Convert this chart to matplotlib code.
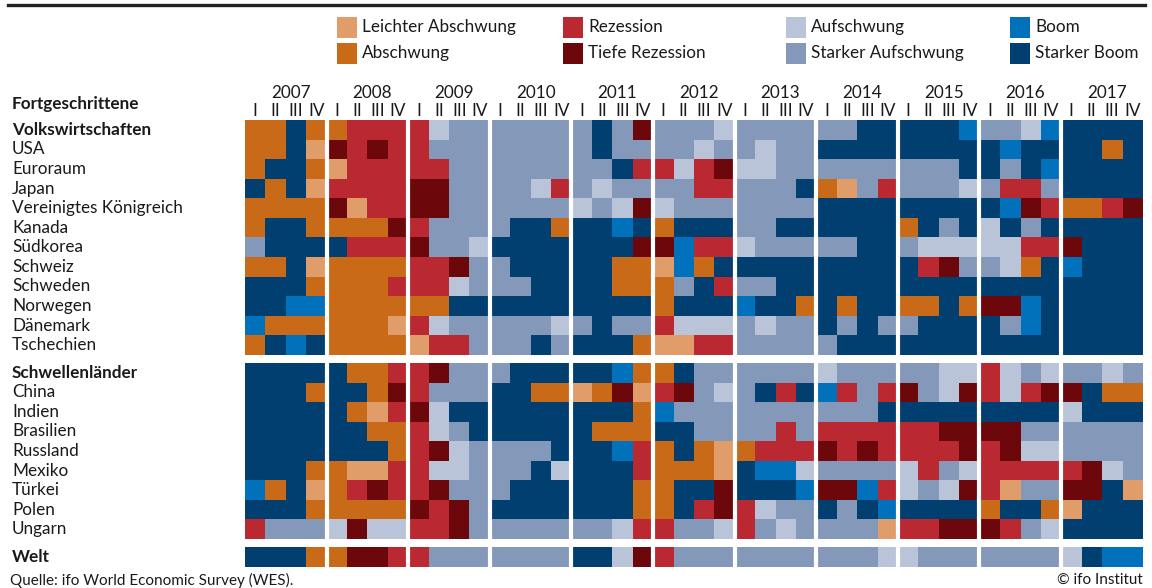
import matplotlib
matplotlib.use("Agg")
import matplotlib.pyplot as plt
from matplotlib.colors import ListedColormap, BoundaryNorm
from matplotlib.patches import Rectangle
from matplotlib.lines import Line2D
from matplotlib.transforms import blended_transform_factory
import numpy as np

# ---------------- data ----------------
categories = ["Leichter Abschwung", "Abschwung", "Rezession", "Tiefe Rezession",
              "Aufschwung", "Starker Aufschwung", "Boom", "Starker Boom"]
cat_codes = ["L", "A", "R", "T", "U", "S", "B", "X"]
cat_colors = ["#E09D69", "#C86A17", "#BA2832", "#6C070B",
              "#B9C4D9", "#8498B9", "#0071BA", "#003F6F"]

years = [str(y) for y in range(2007, 2018)]
quarters = ["I", "II", "III", "IV"]

adv_header = "Fortgeschrittene"
adv_labels = ["Volkswirtschaften", "USA", "Euroraum", "Japan", "Vereinigtes Königreich",
              "Kanada", "Südkorea", "Schweiz", "Schweden", "Norwegen", "Dänemark", "Tschechien"]
adv_rows = [
    "AAXA ARRR RUSS SSSS SXST SSSU SSSS SSXX XXXB SSUB XXXX",
    "AAXL TRTR RSSS SSSS SXSS SSUS SUSS XXXX XXXX XBXX XXAX",
    "AXXA LRRR RRSS SSSS SSXR RURT UUSS SSSS SSSX XSXB XXXX",
    "XAXL RRRR TTSS SSUR SUSS SSRR SSSX ALSR SSSU SRRS XXXX",
    "AAAA TLRR TTSS SSSS USUT USSS SSSS XXXX XXXX XBTR AART",
    "AXXA AAAT RSSS SXXA XXBX AXXX SSXX XXXX AXSX UXSX XXXX",
    "SXXX XRRR TSSU XXXX XXXT TBRR USSS SSXX SUUU UURR TXXX",
    "AAXL AAAA RRTS SXXX XXAA LBAX XXXX XXXX XRTS SUAX BXXX",
    "XXXA AAAR RRUS SSXX XXAA ASXR SSXX XXXX XXXX XXXX XXXX",
    "XXBB AAAA AAXX XXXX XXXX AXXX BXXA XAXX AAXA TTBX XXXX",
    "BAAA AAAL RUSS SSSU SXSS RUUU SUSS XSXS SXXX XSBX XXXX",
    "AXBX AAAA LRRS SSXS XXXA LLRR SSSS SXXX XXXX XXXX XXXX",
]

em_labels = ["Schwellenländer", "China", "Indien", "Brasilien", "Russland",
             "Mexiko", "Türkei", "Polen", "Ungarn"]
em_rows = [
    "XXXX XAAR RTSS SXXX XXBA AXSS SSSS USSS SSUU RUSU SSUS",
    "XXXA XXAT RSSS XXAA LATL RTSU SXRX BRSR TSUT RURT TXAA",
    "XXXX XALR TUXX XXXX XXXA BSSS SSSS SSSX XXXX XXXX UXXX",
    "XXXX XXAA RUSX XXXX XAAA XXSS SSRS RRRR RRTT TTSS SSSS",
    "XXXX XXXA RTUS SSSX XXBR AXAL ARRR TRTR RRRT RTUU SSSS",
    "XXXA ALLR RUUS SSXU XXXR AAAL XBBU SSSS URSU RRRR RTUS",
    "BAXL ARTR RTSS SXXX XXXA AXXT XXXB TTBR USUT RLSS TTXL",
    "XXXA AAAA TRTS XXXX XXXA AXRT RUSS XSXB XXXX AXXA LXXX",
    "RSSS UTUU RRTS SSSS SSUR RSSU RSUS SSSL RRTT TRSU XXXX",
]

world_labels = ["Welt"]
world_rows = [
    "XXXA ATTR RSSS SSSS XXUT RSSS SSSS SSSU USSS SSSS UXBB",
]

source_text = "Quelle: ifo World Economic Survey (WES)."
credit_text = "© ifo Institut"

# ---------------- figure ----------------
W, H = 1152, 588
plt.rcParams["font.family"] = ["Lato", "DejaVu Sans"]
TXT = "#1a1a1a"
fig = plt.figure(figsize=(W / 100, H / 100), dpi=100)
fig.patch.set_facecolor("white")


def fy(y):
    return 1 - y / H


def fx(x):
    return x / W


def px_axes(x0, y0, x1, y1):
    return fig.add_axes([fx(x0), fy(y1), (x1 - x0) / W, (y1 - y0) / H])


cmap = ListedColormap(cat_colors)
norm = BoundaryNorm(np.arange(len(cat_colors) + 1) - 0.5, cmap.N)

GX0, GX1 = 245, 1142.6
nq = len(years) * len(quarters)


def draw_group(y0, y1, labels, rows, bold_first):
    ax = px_axes(GX0, y0, GX1, y1)
    mat = np.array([[cat_codes.index(c) for c in r.replace(" ", "")] for r in rows])
    n = mat.shape[0]
    ax.imshow(mat, cmap=cmap, norm=norm, aspect="auto", interpolation="nearest",
              extent=(0, nq, n, 0))
    for k in range(1, len(years)):
        ax.axvline(k * len(quarters), color="white", lw=3.0)
    ax.set_xlim(0, nq)
    ax.set_ylim(n, 0)
    ax.axis("off")
    tr = blended_transform_factory(fig.transFigure, ax.transData)
    for i, lab in enumerate(labels):
        ax.text(fx(12), i + 0.5, lab, transform=tr, ha="left", va="center",
                fontsize=12.3, color=TXT,
                fontweight="bold" if (bold_first and i == 0) else "normal")
    return ax


ax_top = draw_group(120, 355, adv_labels, adv_rows, True)
ax_bot = draw_group(363, 539, em_labels, em_rows, True)
ax_w = draw_group(547, 566.6, world_labels, world_rows, True)

# header for first group
fig.text(fx(12), fy(104), adv_header, ha="left", va="center", fontsize=12.3,
         fontweight="bold", color=TXT)

# year and quarter labels
trx = blended_transform_factory(ax_top.transData, fig.transFigure)
for k, yr in enumerate(years):
    ax_top.text(k * 4 + 2 + 0.25, fy(93), yr, transform=trx, ha="center", va="center",
                fontsize=12.3, color=TXT)
    for q, ql in enumerate(quarters):
        ax_top.text(k * 4 + q + 0.5, fy(111), ql, transform=trx, ha="center", va="center",
                    fontsize=12.3, color=TXT)

# legend (4 columns x 2 rows)
leg_x = [337, 563, 786, 1010]
leg_y = [27, 53]
for idx, (lab, col) in enumerate(zip(categories, cat_colors)):
    c, r = idx // 2, idx % 2
    x, y = leg_x[c], leg_y[r]
    fig.patches.append(Rectangle((fx(x), fy(y + 10.5)), 20 / W, 21 / H,
                                 transform=fig.transFigure, facecolor=col,
                                 edgecolor="none"))
    fig.text(fx(x + 25), fy(y), lab, ha="left", va="center", fontsize=12.3, color=TXT)

# top rule
fig.lines.append(Line2D([fx(8), fx(1145)], [fy(5), fy(5)], transform=fig.transFigure,
                        color="#222222", lw=2.4))

# footer
fig.text(fx(10), fy(580), source_text, ha="left", va="center", fontsize=11, color=TXT)
fig.text(fx(1143), fy(580), credit_text, ha="right", va="center", fontsize=11, color=TXT)

fig.savefig("out.png", dpi=100, facecolor="white")
